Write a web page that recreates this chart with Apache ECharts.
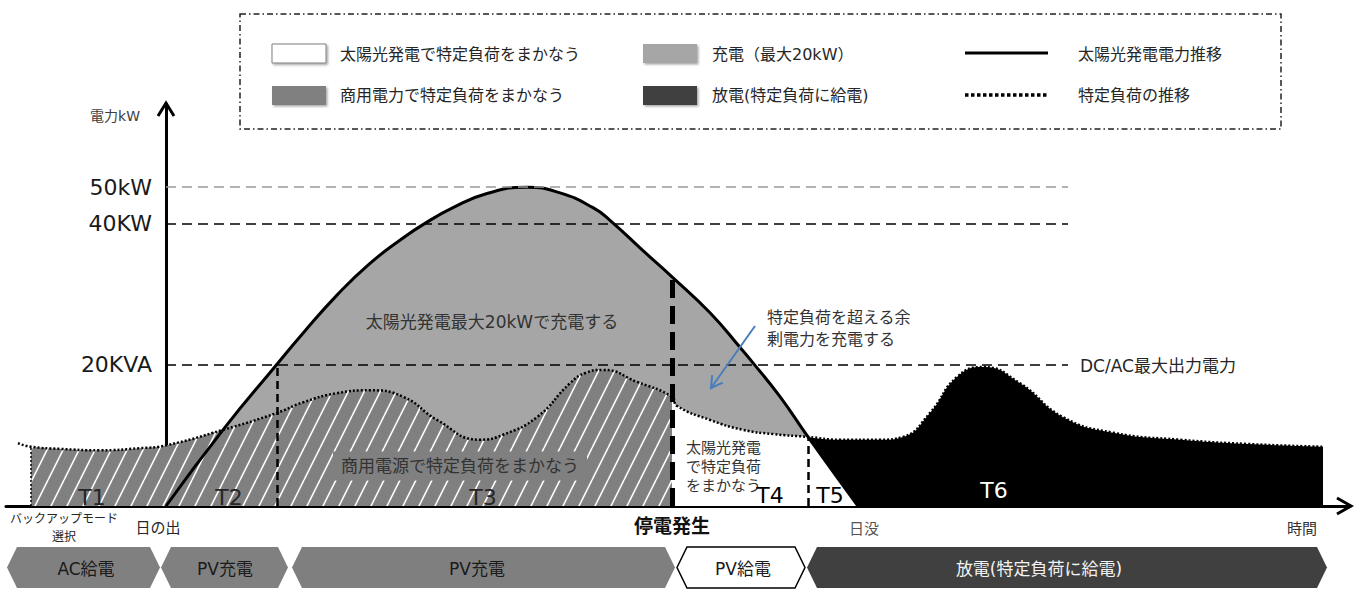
<!DOCTYPE html>
<html><head><meta charset="utf-8">
<script src="https://cdn.jsdelivr.net/npm/echarts@6/dist/echarts.min.js"></script>
<style>html,body{margin:0;padding:0;background:#fff}#c{width:1357px;height:590px}</style>
</head><body><div id="c"></div>
<script>
// ---- data (x: time units, y: kW on the drawn scale) ----
const pvCurve = [
  [0,0],[5.7,10.8],[11.1,20.1],[13.7,24.5],[17.1,29.9],[20.4,34.4],[23.7,38.0],[25.7,39.9],
  [28.7,42.3],[32.1,44.3],[36.1,45.2],[39.4,44.4],[42.7,42.3],[44.4,40.5],[47.7,36.2],
  [50.6,32.5],[54.4,27.4],[57.4,22.5],[58.7,20.3],[61.4,15.5],[64.2,9.8],[69.2,0]
];
const loadCurve = [
  [-14.8,8.9],[-13.5,8.4],[-10.6,8.1],[-6.6,7.9],[-2.6,8.2],[0,8.6],[5.7,10.8],[11.1,13.2],
  [13.7,14.7],[17.1,16.0],[20.4,16.4],[23.7,15.5],[27.1,12.2],[31.4,9.4],[33.7,10.1],
  [37.1,12.6],[40.4,17.4],[42.0,18.9],[43.7,19.3],[47.1,17.6],[50.6,15.5],[51.1,14.2],[54.4,12.2],
  [57.7,10.8],[60.7,10.2],[64.2,9.8],[67.4,9.4],[71.4,9.4],[73.7,9.8],[76.4,13.2],
  [79.1,18.3],[81.7,19.7],[85.4,17.4],[89.7,12.6],[94.7,10.4],[101.4,9.4],[108.1,8.8],[115.7,8.4]
];
const refLevels = [45.2, 40, 20];
const refLabels = ['50kW', '40KW', '20KVA'];
const refLineEnd = 90.2;
const eventX = { backup: -13.5, sunrise: 0, t2End: 11.1, outage: 50.6, t5Start: 64.2, sunset: 69.2, loadEnd: 115.7 };
const phaseNames = ['AC給電', 'PV充電', 'PV充電', 'PV給電', '放電(特定負荷に給電)'];
const phaseStart = [-15.9, -0.5, 12.6, 51.1, 64.1];
const phaseEnd   = [-0.6, 12.2, 50.9, 63.9, 116.1];
const periodNames = ['T1', 'T2', 'T3', 'T4', 'T5', 'T6'];

// ---- helpers ----
const FONT = "'DejaVu Sans','Noto Sans CJK JP',sans-serif";
const SMOOTH = 0.5;
const between = (arr, a, b) => arr.filter(p => p[0] >= a - 1e-9 && p[0] <= b + 1e-9);
const valueAt = (arr, x) => { const p = arr.find(q => Math.abs(q[0] - x) < 1e-9); return p ? p[1] : 0; };

function hatchCanvas() {
  const c = document.createElement('canvas'); c.width = 16; c.height = 32;
  const gc = c.getContext('2d');
  gc.fillStyle = '#808080'; gc.fillRect(0, 0, 16, 32);
  gc.strokeStyle = '#ffffff'; gc.lineWidth = 1.6;
  for (const dx of [-16, 0, 16]) { gc.beginPath(); gc.moveTo(dx, 32); gc.lineTo(dx + 16, 0); gc.stroke(); }
  return c;
}

const chart = echarts.init(document.getElementById('c'), null, { renderer: 'svg' });

const areaSeries = (data, fill, smooth) => ({
  type: 'line', data, smooth, showSymbol: false, silent: true,
  lineStyle: { width: 0 }, areaStyle: { color: fill, opacity: 1 }
});

const refLineData = refLevels.map((v, i) => [
  { coord: [0, v], lineStyle: { color: i === 0 ? '#999' : '#000', width: 1.5, type: [10, 6] },
    label: { show: true, position: 'start', distance: 14, formatter: refLabels[i], fontSize: 22, fontFamily: FONT, color: '#1a1a1a' } },
  { coord: [refLineEnd, v] }
]);
const vLine = (x, yTopVal, style) => [{ coord: [x, 0], lineStyle: style }, { coord: [x, yTopVal] }];

const option = {
  animation: false,
  grid: { left: 6, right: 7, top: 104, bottom: 84 },
  xAxis: { type: 'value', min: -16, max: 118.4,
    axisLine: { show: true, onZero: true, lineStyle: { color: '#000', width: 3 } },
    axisTick: { show: false }, axisLabel: { show: false }, splitLine: { show: false } },
  yAxis: { type: 'value', min: 0, max: 57,
    axisLine: { show: true, onZero: true, lineStyle: { color: '#000', width: 3 } },
    axisTick: { show: false }, axisLabel: { show: false }, splitLine: { show: false } },
  series: [
    areaSeries(pvCurve, '#a6a6a6', SMOOTH),
    areaSeries(between(loadCurve, eventX.backup, eventX.outage), { image: hatchCanvas(), repeat: 'repeat' }, SMOOTH),
    areaSeries(between(loadCurve, eventX.outage, eventX.t5Start), '#ffffff', SMOOTH),
    areaSeries(between(loadCurve, eventX.t5Start, eventX.loadEnd), '#000000', SMOOTH),
    areaSeries(between(pvCurve, eventX.t5Start, eventX.sunset), '#ffffff', 0),
    { type: 'line', data: pvCurve, smooth: SMOOTH, showSymbol: false, silent: true,
      lineStyle: { color: '#000', width: 3 } },
    { type: 'line', data: loadCurve, smooth: SMOOTH, showSymbol: false, silent: true,
      lineStyle: { color: '#000', width: 2.5, type: [2, 2] },
      markLine: { silent: true, symbol: ['none', 'none'], label: { show: false },
        data: refLineData.concat([
          vLine(eventX.backup, valueAt(loadCurve, eventX.backup), { color: '#000', width: 1.5, type: [2, 2] }),
          vLine(eventX.t2End, 20, { color: '#000', width: 2.5, type: [8, 5] }),
          vLine(eventX.outage, valueAt(pvCurve, eventX.outage), { color: '#000', width: 5, type: [18, 8] }),
          vLine(eventX.t5Start, valueAt(loadCurve, eventX.t5Start), { color: '#000', width: 2.5, type: [8, 5] })
        ]) } }
  ]
};
chart.setOption(option);

// ---- annotations ----
const P = (x, y) => chart.convertToPixel({ gridIndex: 0 }, [x, y]);
function txt(text, x, y, size, extra) {
  return { type: 'text', x, y, silent: true, z: 100,
    style: Object.assign({ text, fontSize: size, fontFamily: FONT, fill: '#262626', align: 'left', verticalAlign: 'middle' }, extra || {}) };
}
const els = [];
// legend box
els.push({ type: 'rect', silent: true, z: 100, shape: { x: 240, y: 14, width: 1041, height: 115 },
  style: { fill: 'none', stroke: '#222', lineWidth: 1.5, lineDash: [6, 3, 1.5, 3] } });
const sw = (x, y, fill, stroke) => ({ type: 'rect', silent: true, z: 100, shape: { x, y, width: 54, height: 19 },
  style: { fill, stroke: stroke || null, lineWidth: 1, shadowBlur: 2, shadowOffsetX: 1.5, shadowOffsetY: 1.5, shadowColor: 'rgba(0,0,0,0.35)' } });
els.push(sw(272, 44, '#ffffff', '#7f7f7f'), sw(272, 86, '#808080'), sw(643, 44, '#a6a6a6'), sw(643, 86, '#404040'));
els.push({ type: 'line', silent: true, z: 100, shape: { x1: 965, y1: 53, x2: 1048, y2: 53 }, style: { stroke: '#000', lineWidth: 3 } });
els.push({ type: 'line', silent: true, z: 100, shape: { x1: 965, y1: 95, x2: 1048, y2: 95 }, style: { stroke: '#000', lineWidth: 3.5, lineDash: [3.5, 2.5] } });
els.push(txt('太陽光発電で特定負荷をまかなう', 340, 54, 16), txt('商用電力で特定負荷をまかなう', 340, 95, 16),
       txt('充電（最大20kW）', 712, 54, 16), txt('放電(特定負荷に給電)', 712, 95, 16),
       txt('太陽光発電電力推移', 1078, 54, 16), txt('特定負荷の推移', 1078, 95, 16));

// axis arrows
const yTopPx = P(0, 57), xEndPx = P(118.4, 0);
els.push({ type: 'polyline', silent: true, z: 100, shape: { points: [[yTopPx[0] - 8, yTopPx[1] + 12], [yTopPx[0], yTopPx[1] - 1], [yTopPx[0] + 8, yTopPx[1] + 12]] },
  style: { stroke: '#000', lineWidth: 3, fill: null } });
els.push({ type: 'polyline', silent: true, z: 100, shape: { points: [[xEndPx[0] - 13, xEndPx[1] - 8], [xEndPx[0] + 1, xEndPx[1]], [xEndPx[0] - 13, xEndPx[1] + 8]] },
  style: { stroke: '#000', lineWidth: 3, fill: null } });
els.push(txt('電力kW', 140, 116, 14, { align: 'right', fill: '#404040' }));

// region texts
els.push(txt('太陽光発電最大20kWで充電する', 492, 322, 17, { align: 'center', fill: '#333' }));
els.push(txt('商用電源で特定負荷をまかなう', 460, 466, 17, { align: 'center', fill: '#333', backgroundColor: '#808080', padding: [6, 8, 6, 8] }));
els.push(txt('特定負荷を超える余\n剰電力を充電する', 767, 328, 16, { fill: '#333', lineHeight: 22 }));
els.push(txt('太陽光発電\nで特定負荷\nをまかなう', 686, 467, 15, { fill: '#333', lineHeight: 19 }));
els.push(txt('DC/AC最大出力電力', 1080, 366, 17, { fill: '#262626' }));
// blue arrow
(function () {
  const s = [755, 326], e = [711, 388];
  const dx = s[0] - e[0], dy = s[1] - e[1], L = Math.hypot(dx, dy), ux = dx / L, uy = dy / L, h = 13, a = Math.PI / 6;
  const r = (t) => [e[0] + h * (ux * Math.cos(t) - uy * Math.sin(t)), e[1] + h * (ux * Math.sin(t) + uy * Math.cos(t))];
  els.push({ type: 'line', silent: true, z: 100, shape: { x1: s[0], y1: s[1], x2: e[0], y2: e[1] }, style: { stroke: '#4a7ebb', lineWidth: 2 } });
  els.push({ type: 'polyline', silent: true, z: 100, shape: { points: [r(a), e, r(-a)] }, style: { stroke: '#4a7ebb', lineWidth: 2, fill: null } });
})();

// period labels
const periodPos = [[92, 497], [229, 497], [483, 497], [770, 495], [830, 495], [994, 490]];
periodNames.forEach((n, i) => els.push(txt(n, periodPos[i][0], periodPos[i][1], 22,
  { align: 'center', fill: i === 5 ? '#ffffff' : (i < 3 ? '#262626' : '#000') })));

// axis annotations
els.push(txt('バックアップモード\n選択', 64, 528, 12, { align: 'center', lineHeight: 18 }));
els.push(txt('日の出', 158, 528, 15, { align: 'center' }));
els.push(txt('停電発生', P(eventX.outage, 0)[0], 526, 19, { align: 'center', fontWeight: 'bold', fill: '#111' }));
els.push(txt('日没', P(eventX.sunset, 0)[0] + 6, 529, 15, { align: 'center', fill: '#555' }));
els.push(txt('時間', 1302, 529, 15, { align: 'center', fill: '#333' }));

// phase chevrons
const phaseFill = ['#808080', '#808080', '#7f7f7f', '#ffffff', '#404040'];
const phaseText = ['#1a1a1a', '#1a1a1a', '#1a1a1a', '#1a1a1a', '#f2f2f2'];
const phaseTextX = [86, 225, 477, 743, 1039];
const hexTop = 547, hexBot = 588, hexMid = (hexTop + hexBot) / 2, hexD = 10;
phaseNames.forEach((n, i) => {
  const x0 = P(phaseStart[i], 0)[0], x1 = P(phaseEnd[i], 0)[0];
  els.push({ type: 'polygon', silent: true, z: 100,
    shape: { points: [[x0, hexMid], [x0 + hexD, hexTop], [x1 - hexD, hexTop], [x1, hexMid], [x1 - hexD, hexBot], [x0 + hexD, hexBot]] },
    style: { fill: phaseFill[i], stroke: i === 3 ? '#000' : null, lineWidth: 1.5 } });
  els.push(txt(n, phaseTextX[i], hexMid + 1, 17, { align: 'center', fill: phaseText[i] }));
});

chart.setOption({ graphic: { elements: els } });
</script>
</body></html>
